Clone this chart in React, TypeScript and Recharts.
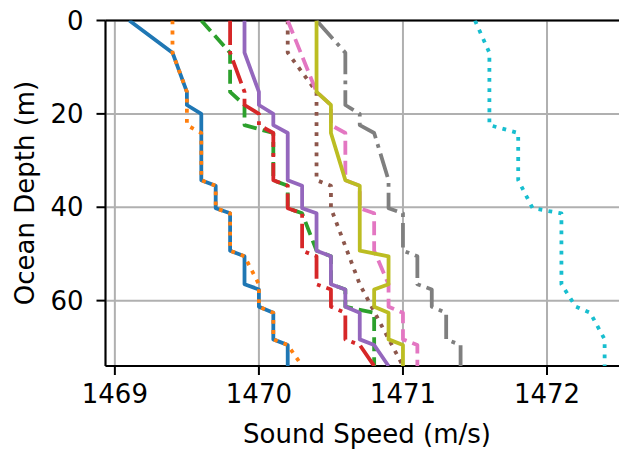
import React from 'react';
import { ScatterChart, Scatter, XAxis, YAxis, CartesianGrid, ReferenceLine } from 'recharts';

// Sound speed profiles (m/s) vs ocean depth (m)
const blueSpeed = [1469.1, 1469.4, 1469.5, 1469.5, 1469.6, 1469.6, 1469.7, 1469.7, 1469.8, 1469.8, 1469.9, 1469.9, 1470.0, 1470.0, 1470.1, 1470.1, 1470.2, 1470.2];
const blueDepth = [0, 6.9, 15.3, 18.1, 20.0, 34.2, 35.4, 40.2, 41.3, 49.3, 50.5, 56.5, 57.6, 61.3, 62.6, 68.3, 69.5, 74];

const orangeSpeed = [1469.4, 1469.4, 1469.5, 1469.5, 1469.6, 1469.6, 1469.7, 1469.7, 1469.8, 1469.8, 1469.9, 1470.0, 1470.0, 1470.1, 1470.1, 1470.2, 1470.3];
const orangeDepth = [0, 6.9, 15.3, 22.4, 24.1, 34.2, 35.4, 40.2, 41.3, 49.3, 50.5, 56.5, 61.3, 62.6, 68.3, 69.5, 74];

const greenSpeed = [1469.6, 1469.8, 1469.8, 1469.9, 1469.9, 1470.1, 1470.1, 1470.2, 1470.2, 1470.3, 1470.4, 1470.5, 1470.5, 1470.6, 1470.6, 1470.8, 1470.8];
const greenDepth = [0, 6.9, 15.3, 18.1, 22.4, 24.1, 34.2, 35.4, 40.2, 41.3, 49.3, 50.5, 56.5, 57.6, 61.3, 62.6, 74];

const redSpeed = [1469.8, 1469.8, 1469.9, 1469.9, 1470.0, 1470.0, 1470.1, 1470.1, 1470.2, 1470.2, 1470.3, 1470.3, 1470.4, 1470.4, 1470.5, 1470.5, 1470.6, 1470.6, 1470.7, 1470.8];
const redDepth = [0, 6.9, 15.3, 18.1, 20.0, 22.4, 24.1, 34.2, 35.4, 40.2, 41.3, 49.3, 50.5, 56.5, 57.6, 61.3, 62.6, 68.3, 69.5, 74];

const purpleSpeed = [1469.9, 1469.9, 1470.0, 1470.0, 1470.1, 1470.1, 1470.2, 1470.2, 1470.3, 1470.3, 1470.4, 1470.4, 1470.5, 1470.5, 1470.6, 1470.6, 1470.7, 1470.7, 1470.8, 1470.9];
const purpleDepth = [0, 6.9, 15.3, 18.1, 20.0, 22.4, 24.1, 34.2, 35.4, 40.2, 41.3, 49.3, 50.5, 56.5, 57.6, 61.3, 62.6, 68.3, 69.5, 74];

const brownSpeed = [1470.2, 1470.2, 1470.4, 1470.4, 1470.5, 1470.5, 1470.7, 1471.0];
const brownDepth = [0, 6.9, 15.3, 34.2, 35.4, 40.2, 56.5, 74];

const pinkSpeed = [1470.2, 1470.4, 1470.5, 1470.5, 1470.6, 1470.6, 1470.7, 1470.7, 1470.8, 1470.8, 1470.9, 1470.9, 1471.0, 1471.0, 1471.1, 1471.1];
const pinkDepth = [0, 15.3, 18.1, 22.4, 24.1, 34.2, 35.4, 40.2, 41.3, 49.3, 56.5, 61.3, 62.6, 68.3, 69.5, 74];

const graySpeed = [1470.4, 1470.6, 1470.6, 1470.7, 1470.7, 1470.8, 1470.9, 1470.9, 1471.0, 1471.0, 1471.1, 1471.1, 1471.2, 1471.2, 1471.3, 1471.3, 1471.4, 1471.4];
const grayDepth = [0, 6.9, 18.1, 20.0, 22.4, 24.1, 34.2, 40.2, 41.3, 49.3, 50.5, 56.5, 57.6, 61.3, 62.6, 68.3, 69.5, 74];

const oliveSpeed = [1470.4, 1470.4, 1470.5, 1470.5, 1470.6, 1470.7, 1470.7, 1470.9, 1470.9, 1470.8, 1470.8, 1470.9, 1470.9, 1471.0, 1471.0];
const oliveDepth = [0, 15.3, 18.1, 24.1, 34.2, 35.4, 49.3, 50.5, 56.5, 57.6, 61.3, 62.6, 68.3, 69.5, 74];

const cyanSpeed = [1471.5, 1471.6, 1471.6, 1471.8, 1471.8, 1471.9, 1472.1, 1472.1, 1472.2, 1472.3, 1472.4, 1472.4];
const cyanDepth = [0, 6.9, 22.4, 24.1, 34.2, 40.2, 41.3, 56.5, 61.3, 62.6, 68.3, 74];

const xTicks = [1469, 1470, 1471, 1472];
const yTicks = [0, 20, 40, 60];

const LW = 3.8;
const DOTTED = '3.8 6.3';
const DASHED = '14 6.1';
const DASHDOT = '24.4 6.1 3.8 6.1';

const series = [
  { name: 'p1', speed: blueSpeed, depth: blueDepth, color: '#1f77b4', dash: undefined },
  { name: 'p2', speed: orangeSpeed, depth: orangeDepth, color: '#ff7f0e', dash: DOTTED },
  { name: 'p3', speed: greenSpeed, depth: greenDepth, color: '#2ca02c', dash: DASHED },
  { name: 'p4', speed: redSpeed, depth: redDepth, color: '#d62728', dash: DASHDOT },
  { name: 'p5', speed: purpleSpeed, depth: purpleDepth, color: '#9467bd', dash: undefined },
  { name: 'p6', speed: brownSpeed, depth: brownDepth, color: '#8c564b', dash: DOTTED },
  { name: 'p7', speed: pinkSpeed, depth: pinkDepth, color: '#e377c2', dash: DASHED },
  { name: 'p8', speed: graySpeed, depth: grayDepth, color: '#7f7f7f', dash: DASHDOT },
  { name: 'p9', speed: oliveSpeed, depth: oliveDepth, color: '#bcbd22', dash: undefined },
  { name: 'p10', speed: cyanSpeed, depth: cyanDepth, color: '#17becf', dash: DOTTED },
];

const toPoints = (speed: number[], depth: number[]) => speed.map((s, i) => ({ s, d: depth[i] }));

const NoShape = () => <g />;

const FONT = 'DejaVu Sans';

export default function App() {
  return (
    <div style={{ position: 'absolute', left: 0, top: 0, width: 619, height: 451, overflow: 'hidden', background: '#fff' }}>
      <ScatterChart width={640} height={451} margin={{ top: 20.5, right: 11.6, bottom: 0, left: 0 }}>
        <CartesianGrid stroke="#b0b0b0" strokeWidth={2} />
        <XAxis
          type="number"
          dataKey="s"
          domain={[1468.935, 1472.565]}
          ticks={xTicks}
          allowDataOverflow
          height={85}
          tickSize={9}
          tickMargin={10}
          axisLine={{ stroke: '#000', strokeWidth: 2 }}
          tickLine={{ stroke: '#000', strokeWidth: 2 }}
          tick={{ fill: '#000', fontSize: 26, fontFamily: FONT }}
        />
        <YAxis
          type="number"
          dataKey="d"
          domain={[0, 74]}
          reversed
          ticks={yTicks}
          allowDataOverflow
          width={105.5}
          tickSize={9}
          tickMargin={13}
          axisLine={{ stroke: '#000', strokeWidth: 2 }}
          tickLine={{ stroke: '#000', strokeWidth: 2 }}
          tick={{ fill: '#000', fontSize: 26, fontFamily: FONT }}
        />
        {series.map((sr) => (
          <Scatter
            key={sr.name}
            name={sr.name}
            data={toPoints(sr.speed, sr.depth)}
            fill={sr.color}
            line={{ stroke: sr.color, strokeWidth: LW, strokeDasharray: sr.dash, strokeLinejoin: 'round', fill: 'none' }}
            lineType="joint"
            shape={NoShape}
            isAnimationActive={false}
          />
        ))}
        <ReferenceLine y={0} stroke="#000" strokeWidth={2} />
      </ScatterChart>
      <svg style={{ position: 'absolute', left: 0, top: 0 }} width={619} height={451}>
        <text x={367} y={443} textAnchor="middle" fontSize={26} fontFamily={FONT} fill="#000">
          Sound Speed (m/s)
        </text>
        <text x={34} y={193} transform="rotate(-90 34 193)" textAnchor="middle" fontSize={26} fontFamily={FONT} fill="#000">
          Ocean Depth (m)
        </text>
      </svg>
    </div>
  );
}
